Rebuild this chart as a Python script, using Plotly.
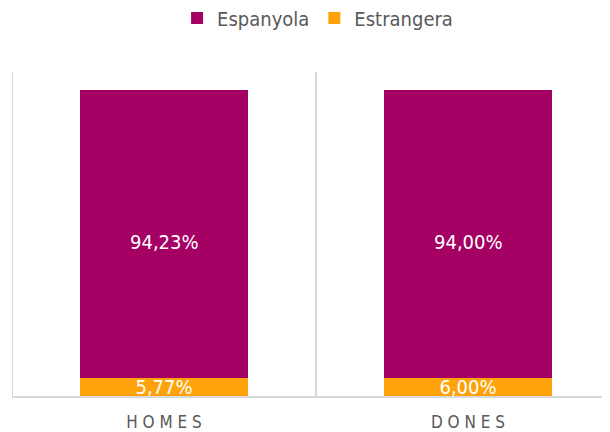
import plotly.graph_objects as go

categories = ["HOMES", "DONES"]
tick_labels = ["H O M E S", "D O N E S"]
espanyola = [94.23, 94.00]
estrangera = [5.77, 6.00]

def fmt(v):
    return f"{v:.2f}".replace(".", ",") + "%"

FONT = "DejaVu Sans Condensed, Liberation Sans Narrow, sans-serif"
purple = "#A50064"
orange = "#FFA20A"

fig = go.Figure()
fig.add_trace(go.Bar(
    x=categories, y=[v / 100 for v in estrangera], name="Estrangera",
    marker=dict(color=orange, line=dict(width=0)),
    text=[fmt(v) for v in estrangera], textposition="inside",
    insidetextanchor="middle", constraintext="none",
    textfont=dict(color="white", size=20, family=FONT),
    legendrank=2,
))
fig.add_trace(go.Bar(
    x=categories, y=[v / 100 for v in espanyola], name="Espanyola",
    marker=dict(color=purple, line=dict(width=0)),
    legendrank=1,
))

# data labels of the Espanyola segments (slightly below segment centre, as in the reference)
for cat, es, ex in zip(categories, espanyola, estrangera):
    fig.add_annotation(x=cat, y=(ex + es / 2) / 100, xref="x", yref="y", text=fmt(es),
                       showarrow=False, yshift=-8,
                       font=dict(color="white", size=20, family=FONT))

# category separators
for xv in [-0.5, 0.5]:
    fig.add_shape(type="line", x0=xv, x1=xv, y0=0, y1=1.06, xref="x", yref="y",
                  line=dict(color="#D9D9D9", width=2), layer="below")

# page body has an 8px default margin; figure sized to compensate
fig.update_layout(
    width=602, height=424,
    margin=dict(l=4, r=0, t=64, b=36, autoexpand=False),
    barmode="stack", bargap=0.447,
    plot_bgcolor="white", paper_bgcolor="white",
    font=dict(family=FONT, color="#595959"),
    showlegend=True,
    legend=dict(orientation="h", x=0.511, xanchor="center", y=1.167, yanchor="middle",
                font=dict(size=20, color="#595959", family=FONT),
                itemwidth=30, traceorder="normal"),
    xaxis=dict(range=[-0.5, 1.467], showgrid=False, showline=True, linecolor="#D9D9D9",
               linewidth=2, ticks="", tickvals=categories, ticktext=tick_labels,
               tickfont=dict(size=17, color="#595959", family=FONT), fixedrange=True,
               ticklabelstandoff=10),
    yaxis=dict(range=[0, 1.06], showgrid=False, showticklabels=False, zeroline=False,
               showline=False, fixedrange=True),
)

fig.write_html("out.html")
